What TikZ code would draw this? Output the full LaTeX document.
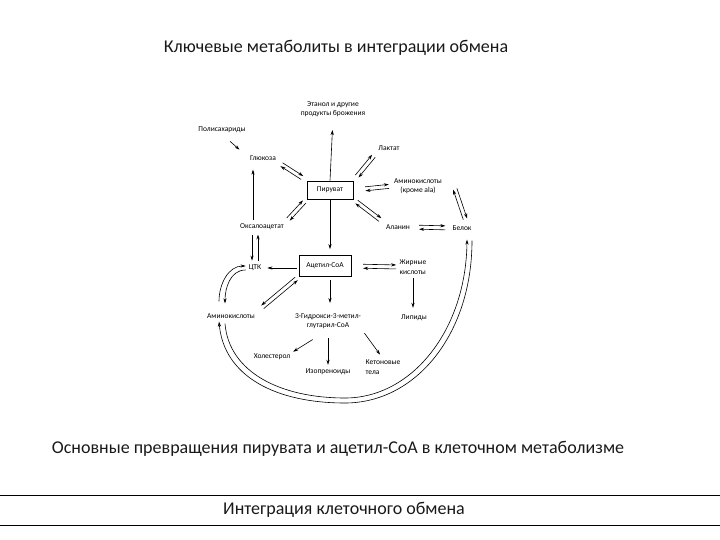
\documentclass[tikz,border=0pt]{standalone}
\usepackage{fontspec}
\setmainfont{Carlito}
\usetikzlibrary{arrows.meta,calc}

% pair of opposite arrows between #2 and #3 (from pos #4 to pos #5), #1 = side offset
\newcommand\twoway[5][2pt]{%
\path (#2) -- (#3) coordinate[pos=#4] (tw-s) coordinate[pos=#5] (tw-e);
\draw[arr] ($(tw-s)!#1!90:(tw-e)$) -- ($(tw-e)!#1!-90:(tw-s)$);
\draw[arr] ($(tw-e)!#1!90:(tw-s)$) -- ($(tw-s)!#1!-90:(tw-e)$);}

\begin{document}
\begin{tikzpicture}[x=1pt, y=-1pt, hdr/.style={font=\fontsize{18}{21}\selectfont, text=black!90}, lbl/.style={font=\fontsize{7.5}{9.5}\selectfont, inner sep=1pt, align=center}, box/.style={lbl, draw, line width=0.8pt, minimum width=46pt, minimum height=18pt}, arr/.style={-{Stealth[length=5pt,width=3.2pt]}, line width=0.6pt}]
\useasboundingbox (0,0) rectangle (720,540);
\node[hdr] (title) at (336,48) {Ключевые метаболиты в интеграции обмена};
\node[lbl] (ethanol) at (333,109) {Этанол и другие\\продукты брожения};
\node[lbl] (poly) at (222,130) {Полисахариды};
\node[lbl] (glucose) at (263,158) {Глюкоза};
\node[lbl] (lactate) at (389,148) {Лактат};
\node[box] (pyr) at (330,190) {Пируват};
\node[lbl] (amino1) at (418,186) {Аминокислоты\\(кроме ala)};
\node[lbl] (oxa) at (262,227) {Оксалоацетат};
\node[lbl] (ala) at (398,227) {Аланин};
\node[lbl] (protein) at (462,228) {Белок};
\node[box, minimum width=52pt, minimum height=21pt] (acoa) at (325,266) {Ацетил-СоА};
\node[lbl] (tca) at (255,268) {ЦТК};
\node[lbl, align=left] (fatty) at (413,267) {Жирные\\кислоты};
\node[lbl] (lipids) at (414,318) {Липиды};
\node[lbl] (amino2) at (231,316) {Аминокислоты};
\node[lbl] (hmg) at (328,321) {3-Гидрокси-3-метил-\\глутарил-СоА};
\node[lbl] (chol) at (272,357) {Холестерол};
\node[lbl] (iso) at (328,372) {Изопреноиды};
\node[lbl, align=left] (keto) at (383,367) {Кетоновые\\тела};
\node[hdr] (caption) at (338,449) {Основные превращения пирувата и ацетил-СоА в клеточном метаболизме};
\node[hdr] (footer) at (344,510) {Интеграция клеточного обмена};
\coordinate (aminoR) at (455,189);
\draw[arr, shorten >=12pt] (pyr.north) -- (ethanol.south);
\draw[arr] ($(poly.south)!0.3!(glucose.west)$) -- ($(poly.south)!0.65!(glucose.west)$);
\draw[arr, shorten <=3pt, shorten >=8pt] ([xshift=-9pt]oxa.north) -- ([xshift=-9pt]oxa.north |- glucose.south);
\twoway{glucose.south east}{pyr.north west}{0.15}{0.85}
\twoway{pyr.north east}{lactate.south west}{0.15}{0.85}
\twoway{pyr.east}{amino1.west}{0.3}{0.9}
\twoway{oxa.north east}{pyr.south west}{0.15}{0.9}
\twoway{pyr.south east}{ala.north west}{0.1}{0.85}
\twoway{ala.east}{protein.west}{0.2}{0.85}
\twoway{aminoR}{[xshift=5pt]protein.north}{0}{0.85}
\draw[arr, shorten >=6pt] (pyr.south) -- (pyr.south |- acoa.north);
\draw[arr, shorten <=2pt, shorten >=5pt] (acoa.west |- tca) -- (tca.east);
\twoway[-3pt]{[xshift=-7pt]oxa.south}{tca.north}{0.1}{0.9}
\twoway{acoa.east}{fatty.west}{0.25}{0.95}
\draw[arr, shorten <=3pt, shorten >=6pt] (fatty.south) -- (fatty.south |- lipids.north);
\twoway[-2pt]{acoa.south west}{amino2.north east}{0.05}{0.85}
\draw[arr, shorten <=3pt, shorten >=9pt] (pyr.south |- acoa.south) -- (pyr.south |- hmg.north);
\draw[arr, shorten <=18pt, shorten >=2pt] (hmg.south) -- (chol.north east);
\draw[arr, shorten <=8pt, shorten >=3pt] (hmg.south) -- (iso.north);
\draw[arr, shorten <=4pt, shorten >=5pt] (hmg.south east) -- (keto.north);
\draw[arr] ([xshift=-12pt,yshift=11pt]amino2.north) to[out=90,in=180] ([xshift=-2pt,yshift=2pt]tca.west);
\draw[arr] ([xshift=-2pt,yshift=-2pt]tca.west) to[out=180,in=90] ([xshift=-6pt,yshift=9pt]amino2.north);
\draw[arr] ([xshift=-6pt,yshift=-4pt]amino2.south) .. controls (229,372) and (280,398) .. (345,398) .. controls (412,398) and (466,330) .. ([xshift=5pt,yshift=-8pt]protein.south);
\draw[arr] ([xshift=10pt,yshift=-9pt]protein.south) .. controls (472,334) and (416,403) .. (345,403) .. controls (275,403) and (224,376) .. ([xshift=-12pt,yshift=-2pt]amino2.south);
\draw[line width=1pt] (0,495) -- (720,495);
\draw[line width=1pt] (0,525) -- (720,525);
\end{tikzpicture}
\end{document}
